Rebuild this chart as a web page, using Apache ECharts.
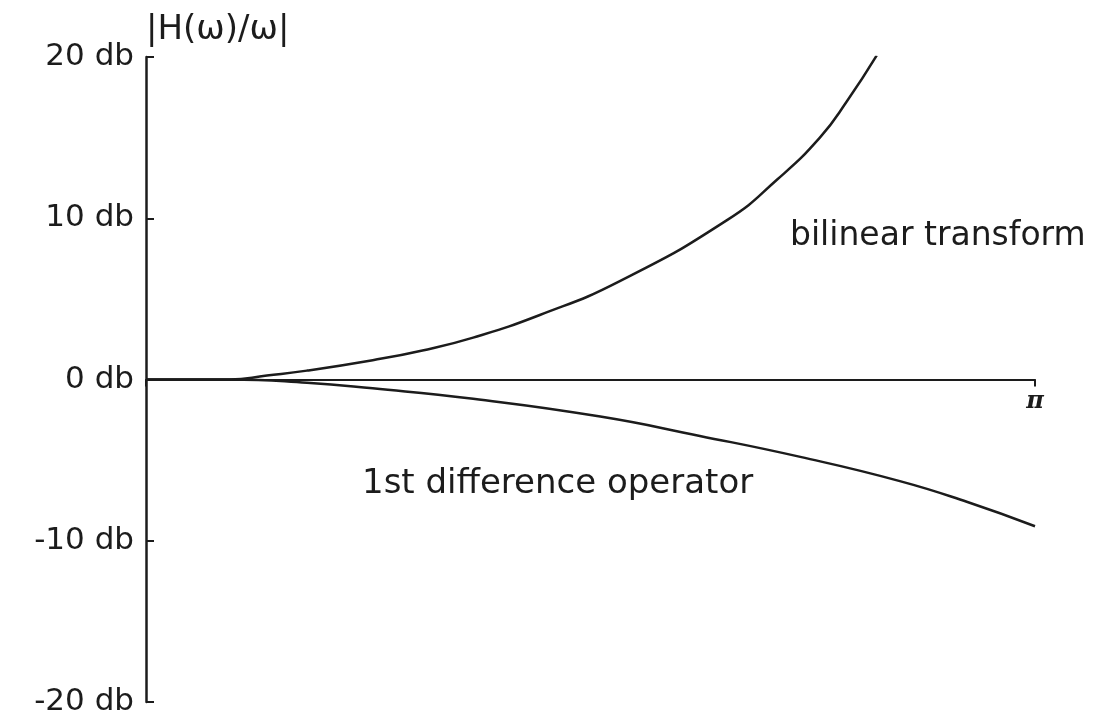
<!DOCTYPE html>
<html>
<head>
<meta charset="utf-8">
<script src="https://cdn.jsdelivr.net/npm/echarts@6/dist/echarts.min.js"></script>
<style>
  html, body { margin: 0; padding: 0; background: #fff; }
  #chart { width: 1107px; height: 720px; }
</style>
</head>
<body>
<div id="chart"></div>
<script>
// Frequency as a fraction of pi (0 .. 1), gain in dB
const omegaBilinear = [0, 0.094, 0.136, 0.181, 0.255, 0.311, 0.368, 0.443, 0.533, 0.654, 0.710, 0.758, 0.789, 0.822];
const gainBilinear  = [0, 0, 0.25, 0.55, 1.2, 1.8, 2.6, 4.0, 6.1, 9.9, 12.4, 15.0, 17.3, 20.1];

const omegaDifference = [0, 0.094, 0.181, 0.255, 0.368, 0.511, 0.623, 0.736, 0.848, 0.924, 1.0];
const gainDifference  = [0, 0, -0.2, -0.55, -1.2, -2.3, -3.5, -4.8, -6.3, -7.6, -9.1];

const yTicks = [-20, -10, 0, 10, 20];
const yTickLabel = v => v + ' db';
const xEnd = 1;
const xEndLabel = 'π';
const axisTitle = '|H(ω)/ω|';
const curveNames = ['bilinear transform', '1st difference operator'];

const ink = '#1c1c1c';
const font = '"DejaVu Sans", sans-serif';

const pairs = (xs, ys) => xs.map((x, i) => [x, ys[i]]);

const chart = echarts.init(document.getElementById('chart'), null, { renderer: 'canvas' });

chart.setOption({
  backgroundColor: '#ffffff',
  animation: false,
  grid: { left: 146, right: 72, top: 57, bottom: 18, containLabel: false },
  xAxis: {
    type: 'value',
    min: 0,
    max: xEnd,
    interval: 1,
    axisLine: { show: true, onZero: true, lineStyle: { color: ink, width: 2 } },
    axisTick: { show: true, inside: false, length: 7, lineStyle: { color: ink, width: 2 } },
    axisLabel: { show: false },
    splitLine: { show: false }
  },
  yAxis: {
    type: 'value',
    min: yTicks[0],
    max: yTicks[yTicks.length - 1],
    interval: 10,
    name: axisTitle,
    nameLocation: 'end',
    nameGap: 10,
    nameTextStyle: {
      align: 'left',
      verticalAlign: 'bottom',
      color: ink,
      fontFamily: font,
      fontSize: 34,
      padding: [0, 0, 0, 0]
    },
    axisLine: { show: true, lineStyle: { color: ink, width: 2.5 } },
    axisTick: { show: true, inside: true, length: 8, lineStyle: { color: ink, width: 2 } },
    axisLabel: {
      margin: 12,
      formatter: yTickLabel,
      color: ink,
      fontFamily: font,
      fontSize: 31
    },
    splitLine: { show: false }
  },
  series: [
    {
      name: curveNames[0],
      type: 'line',
      data: pairs(omegaBilinear, gainBilinear),
      smooth: 0.5,
      symbol: 'none',
      lineStyle: { color: ink, width: 2.5 },
      z: 3
    },
    {
      name: curveNames[1],
      type: 'line',
      data: pairs(omegaDifference, gainDifference),
      smooth: 0.5,
      symbol: 'none',
      lineStyle: { color: ink, width: 2.5 },
      z: 3,
      // pi label under the end tick of the frequency axis
      markPoint: {
        symbol: 'circle',
        symbolSize: 0,
        data: [{ coord: [xEnd, 0], value: xEndLabel }],
        label: {
          show: true,
          position: 'bottom',
          distance: 10,
          formatter: xEndLabel,
          color: ink,
          fontFamily: '"DejaVu Serif", serif',
          fontStyle: 'italic',
          fontWeight: 'bold',
          fontSize: 24
        }
      }
    }
  ],
  graphic: [
    {
      type: 'text',
      left: 790,
      top: 220,
      style: { text: curveNames[0], fill: ink, font: '33px ' + font }
    },
    {
      type: 'text',
      left: 362,
      top: 467,
      style: { text: curveNames[1], fill: ink, font: '34px ' + font }
    }
  ]
});
</script>
</body>
</html>
